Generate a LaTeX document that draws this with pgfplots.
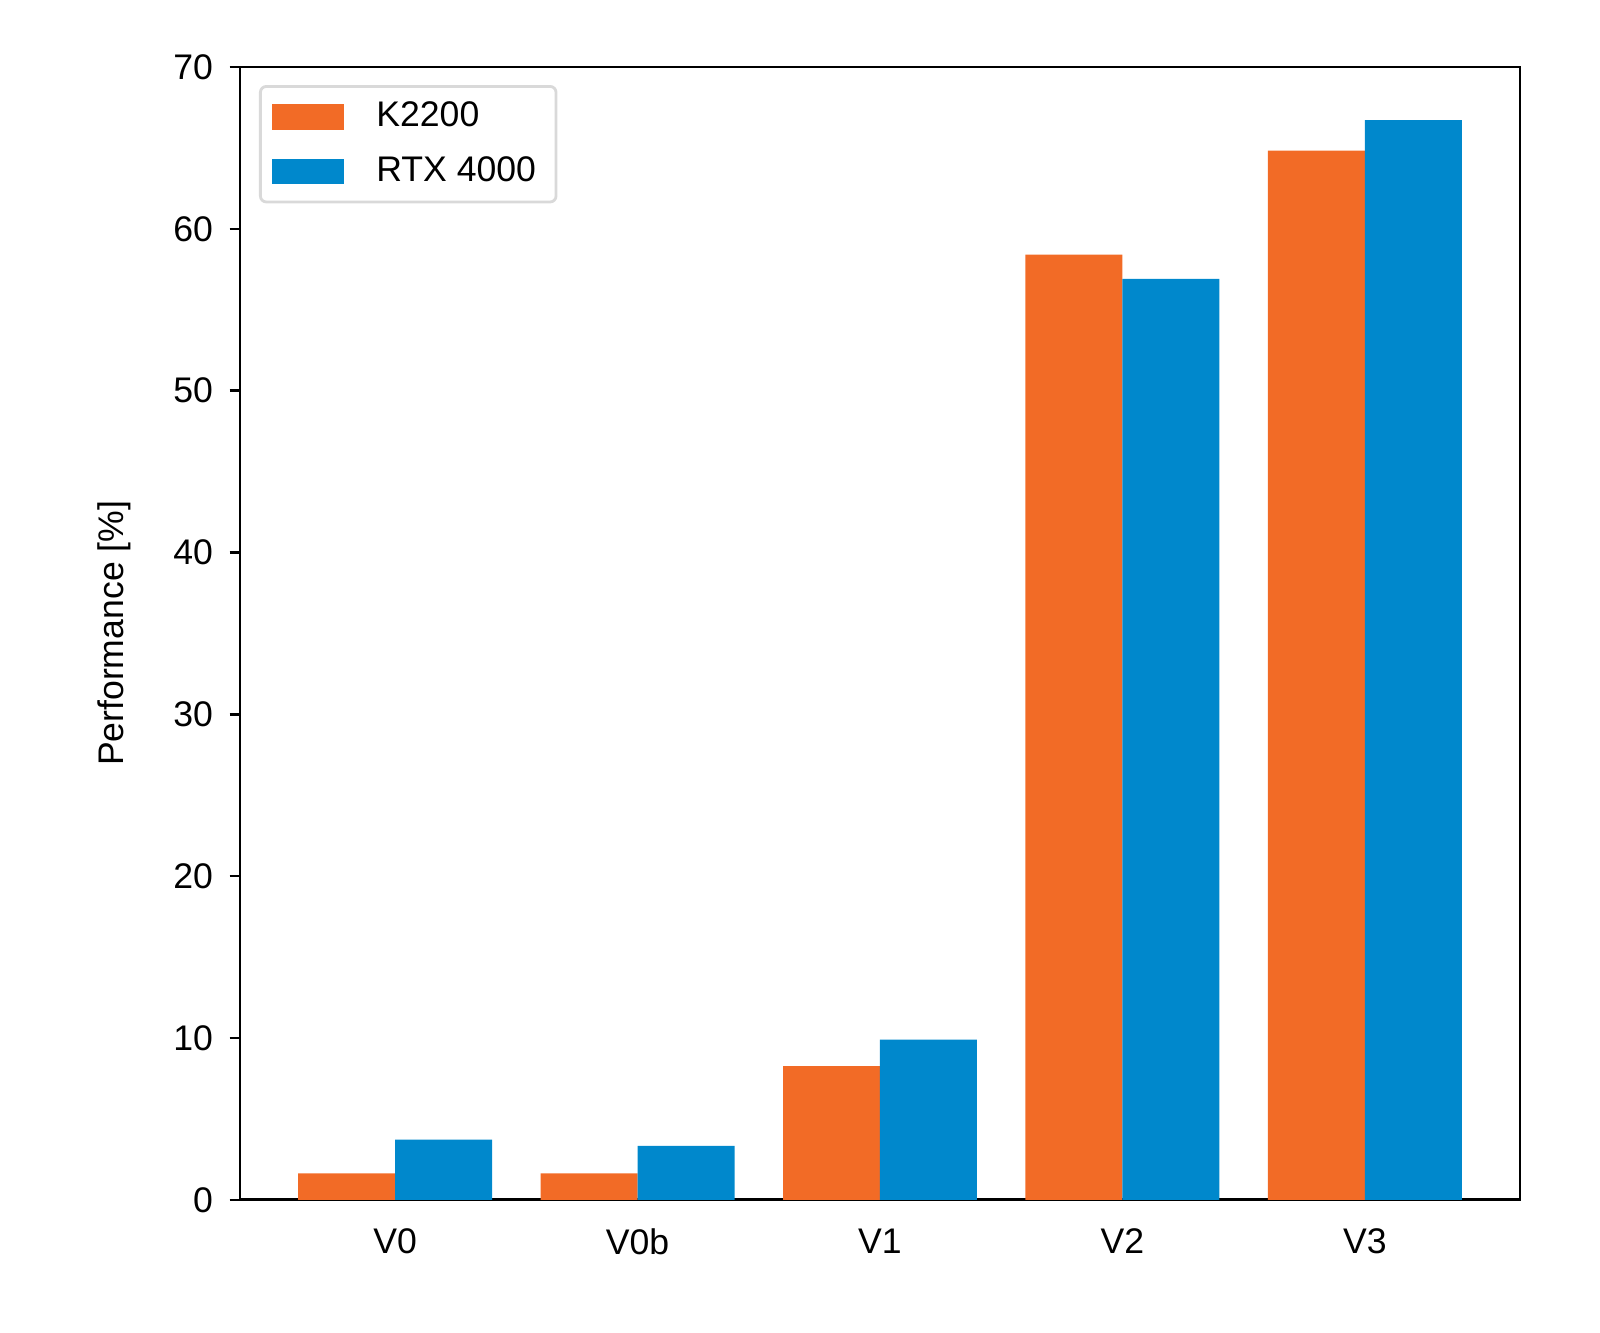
\documentclass[border=0pt]{standalone}
\usepackage{fontspec}
\setmainfont{Liberation Sans}
\usepackage{pgfplots}
\pgfplotsset{compat=1.18}
\definecolor{kor}{HTML}{F26B26}
\definecolor{rtx}{HTML}{0088CC}
\begin{document}
\fontsize{8.9}{10.5}\selectfont
\begin{tikzpicture}
\begin{axis}[
  name=ax,
  scale only axis,
  width=320pt, height=283.2pt,
  ybar, bar width=0.4,
  xmin=-0.64, xmax=4.64,
  ymin=0, ymax=70,
  xtick={0,1,2,3,4},
  xticklabels={V0,V0b,V1,V2,V3},
  ytick={0,10,20,30,40,50,60,70},
  x tick style={draw=none},
  y tick style={black, line width=0.6pt},
  tick align=outside,
  tick pos=left,
  major tick length=2.6pt,
  axis line style={line width=0.7pt},
  /pgf/number format/assume math mode=true,
  tick label style={font=\fontsize{8.9}{10.5}\selectfont},
  xticklabel style={yshift=-1.5pt},
  yticklabel style={xshift=-1pt},
  every axis y label/.style={at={(axis description cs:0,0.5)}, xshift=-31.5pt, rotate=90, anchor=center},
  ylabel={Performance [\%]},
  legend style={at={(0,1)}, xshift=4.75pt, yshift=-4.5pt, anchor=north west,
    draw=black!15, line width=0.7pt, rounded corners=1.5pt, fill=white,
    inner xsep=3pt, inner ysep=1.8pt, row sep=2.2pt,
    font=\fontsize{8.9}{10.5}\selectfont},
  legend cell align=left,
  legend image code/.code={\fill[#1, draw=none, sharp corners] (0.6pt,-3.2pt) rectangle (18.6pt,3.2pt);},
]
\addplot[fill=kor, draw=none, bar shift=-0.2] coordinates {(0,1.64) (1,1.64) (2,8.26) (3,58.4) (4,64.83)};
\addlegendentry{\hspace{6pt}K2200}
\addplot[fill=rtx, draw=none, bar shift=0.2] coordinates {(0,3.72) (1,3.34) (2,9.90) (3,56.9) (4,66.72)};
\addlegendentry{\hspace{6pt}RTX 4000}
\end{axis}
\path[use as bounding box] ([xshift=-60pt,yshift=-33.25pt]ax.south west) rectangle ([xshift=20pt,yshift=16.75pt]ax.north east);
\end{tikzpicture}
\end{document}
